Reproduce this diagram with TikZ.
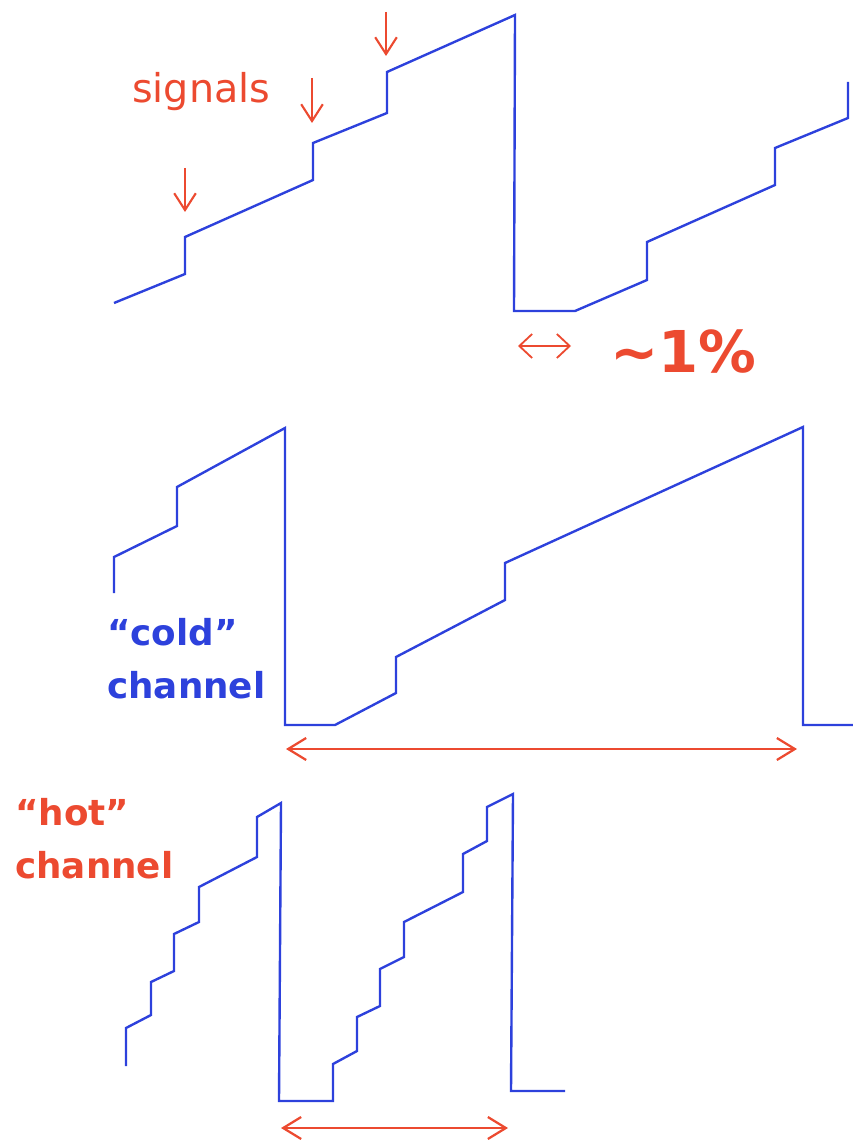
\documentclass[tikz,border=0pt]{standalone}
\usepackage{fontspec}
\setmainfont{DejaVu Sans}
\usetikzlibrary{arrows.meta}
\definecolor{traceblue}{RGB}{45,65,220}
\definecolor{signalred}{RGB}{236,74,48}

\begin{document}
\begin{tikzpicture}[
  x=0.025cm, y=-0.025cm,
  trace/.style={draw=traceblue, line width=1.7pt, line join=miter},
  hit/.style={-{Straight Barb[length=4.2mm, width=5.4mm]}, signalred, line width=1.5pt},
  span/.style={{Straight Barb[length=4.5mm, width=5.5mm]}-{Straight Barb[length=4.5mm, width=5.5mm]}, signalred, line width=1.6pt},
  gap/.style={{Straight Barb[length=3.2mm, width=6mm]}-{Straight Barb[length=3.2mm, width=6mm]}, signalred, line width=1.3pt},
  tag/.style={anchor=base west, inner sep=0pt, font=\fontsize{25.4pt}{30pt}\selectfont\bfseries}
]
  \useasboundingbox (0,0) rectangle (853,1142);

  % top trace
  \draw[trace] (114,303) -- (185,274) -- (185,237) -- (313,180) -- (313,143)
    -- (387,113) -- (387,72) -- (515,15) -- (514,311) -- (575,311)
    -- (647,280) -- (647,242) -- (775,185) -- (775,148) -- (848,118) -- (848,82);

  % middle trace
  \draw[trace] (114,593) -- (114,557) -- (177,526) -- (177,487) -- (285,428)
    -- (285,725) -- (335,725) -- (396,693) -- (396,657) -- (505,600)
    -- (505,563) -- (803,427) -- (803,725) -- (853,725);

  % bottom trace
  \draw[trace] (126,1066) -- (126,1028) -- (151,1015) -- (151,982) -- (174,971)
    -- (174,934) -- (199,922) -- (199,887) -- (257,857) -- (257,817) -- (281,803)
    -- (279,1101) -- (333,1101) -- (333,1064) -- (357,1051) -- (357,1017)
    -- (380,1006) -- (380,969) -- (404,957) -- (404,922) -- (463,892)
    -- (463,854) -- (487,841) -- (487,807) -- (513,794) -- (511,1091) -- (565,1091);

  \coordinate (h1top) at (185,168);  \coordinate (h1tip) at (185,212);
  \coordinate (h2top) at (312,78);   \coordinate (h2tip) at (312,123);
  \coordinate (h3top) at (386,12);   \coordinate (h3tip) at (386,56);
  \coordinate (deadL) at (518,346);  \coordinate (deadR) at (571,346);
  \coordinate (coldL) at (286,749);  \coordinate (coldR) at (797,749);
  \coordinate (hotL)  at (281,1128); \coordinate (hotR)  at (508,1128);

  \draw[hit] (h1top) -- (h1tip);
  \draw[hit] (h2top) -- (h2tip);
  \draw[hit] (h3top) -- (h3tip);
  \draw[gap] (deadL) -- (deadR);
  \draw[span] (coldL) -- (coldR);
  \draw[span] (hotL) -- (hotR);

  \node[anchor=base west, inner sep=0pt, text=signalred, font=\fontsize{28.2pt}{34pt}\selectfont] (signals) at (132,103) {signals};
  \node[anchor=base west, inner sep=0pt, text=signalred, font=\fontsize{41pt}{48pt}\selectfont\bfseries] (dead) at (610,372) {\char"007E 1\%};

  \node[tag, text=traceblue] (cold) at (107,645) {“cold”};
  \node[tag, text=traceblue] (coldch) at (107,698) {channel};
  \node[tag, text=signalred] (hot) at (15,825) {“hot”};
  \node[tag, text=signalred] (hotch) at (15,878) {channel};
\end{tikzpicture}
\end{document}
